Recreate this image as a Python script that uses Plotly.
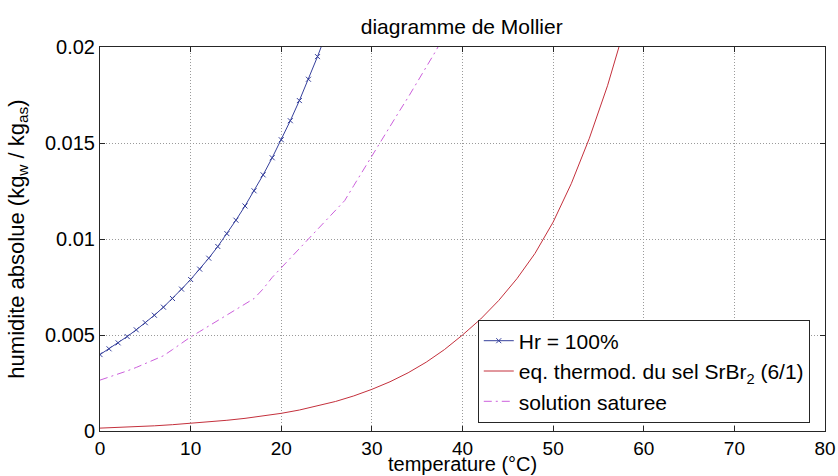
import plotly.graph_objects as go

# ---------------- data ----------------
hr_T = list(range(0, 26))
hr_w = [0.00398, 0.00428, 0.00459, 0.00492, 0.00527, 0.00564, 0.00603, 0.00645,
        0.00690, 0.00739, 0.00789, 0.00843, 0.00900, 0.00961, 0.01028, 0.01098,
        0.01172, 0.01251, 0.01334, 0.01423, 0.01517, 0.01616, 0.01721, 0.01832,
        0.01950, 0.02075]

sel_T = [0, 2, 4, 6, 8, 10, 12, 14, 16, 18, 20, 22, 24, 26, 28, 30, 32, 34, 36,
         38, 40, 42, 44, 46, 48, 50, 52, 54, 56, 58]
sel_w = [0.00015, 0.000182, 0.000222, 0.000270, 0.000329, 0.00040, 0.000472,
         0.000558, 0.000659, 0.000779, 0.00092, 0.001092, 0.001296, 0.001539,
         0.001827, 0.00217, 0.002565, 0.003033, 0.003586, 0.004238, 0.0050,
         0.00583, 0.00680, 0.00793, 0.00925, 0.01088, 0.01288, 0.01525, 0.01798,
         0.02118]

sat_T = list(range(0, 39))
sat_w = [0.00265, 0.00280, 0.00296, 0.00313, 0.00331, 0.00350, 0.00370, 0.00392,
         0.00424, 0.00457, 0.00490, 0.00518, 0.00546, 0.00574, 0.00602, 0.00630,
         0.00658, 0.00690, 0.00740, 0.00800, 0.00850, 0.00900, 0.00950, 0.01000,
         0.01050, 0.01100, 0.01150, 0.01200, 0.01278, 0.01356, 0.01435, 0.01512,
         0.01588, 0.01663, 0.01738, 0.01815, 0.01893, 0.01975, 0.02060]

x_ticks = [0, 10, 20, 30, 40, 50, 60, 70, 80]
y_ticks = [0, 0.005, 0.01, 0.015, 0.02]
y_tick_labels = ["0", "0.005", "0.01", "0.015", "0.02"]

names = ["Hr = 100%", "eq. thermod. du sel SrBr<sub>2</sub> (6/1)", "solution saturee"]
title_text = "diagramme de Mollier"
x_title = "temperature (°C)"
y_title = "humidite absolue (kg<sub>w</sub> / kg<sub>as</sub>)"

# ---------------- figure ----------------
FONT = "Liberation Sans, Arial, sans-serif"
fig = go.Figure()
fig.add_trace(go.Scatter(x=hr_T, y=hr_w, name=names[0], mode="lines+markers",
                         line=dict(color="#36409c", width=1),
                         marker=dict(symbol="x-thin", size=5,
                                     line=dict(color="#36409c", width=1))))
fig.add_trace(go.Scatter(x=sel_T, y=sel_w, name=names[1], mode="lines",
                         line=dict(color="#c4303c", width=1)))
fig.add_trace(go.Scatter(x=sat_T, y=sat_w, name=names[2], mode="lines",
                         line=dict(color="#cc5fdc", width=1, dash="8px,4px,2px,4px")))

axis_common = dict(showline=True, linecolor="#262626", linewidth=1, mirror="ticks",
                   ticks="inside", ticklen=5, tickcolor="#262626",
                   showgrid=True, gridcolor="#9a9a9a", griddash="1px,2px", gridwidth=1,
                   zeroline=False, automargin=False)

fig.update_xaxes(range=[0, 80], tickvals=x_ticks, **axis_common,
                 tickfont=dict(family=FONT, size=19, color="#000"))
fig.update_yaxes(range=[0, 0.02], tickvals=y_ticks, ticktext=y_tick_labels, **axis_common,
                 tickfont=dict(family=FONT, size=20, color="#000"),
                 title=dict(text=y_title, font=dict(family=FONT, size=22, color="#000"),
                            standoff=14))

fig.add_annotation(text=x_title, xref="paper", yref="paper", x=0.5, y=-0.087,
                   xanchor="center", yanchor="middle", showarrow=False,
                   font=dict(family=FONT, size=20, color="#000"))

fig.update_layout(
    width=838, height=476,
    margin=dict(l=100, r=13, t=47, b=45),
    paper_bgcolor="white", plot_bgcolor="white",
    title=dict(text=title_text, x=0.551, xanchor="center", y=0.945, yanchor="middle",
               xref="container", yref="container",
               font=dict(family=FONT, size=21, color="#000")),
    legend=dict(x=0.979, y=0.022, xanchor="right", yanchor="bottom",
                bgcolor="white", bordercolor="#262626", borderwidth=1,
                font=dict(family=FONT, size=21, color="#000"),
                tracegroupgap=0, itemwidth=30),
    showlegend=True,
)

fig.write_html("out.html", config={"displayModeBar": False},
               post_script="document.body.style.margin='0';"
                           "document.body.style.overflow='hidden';")
